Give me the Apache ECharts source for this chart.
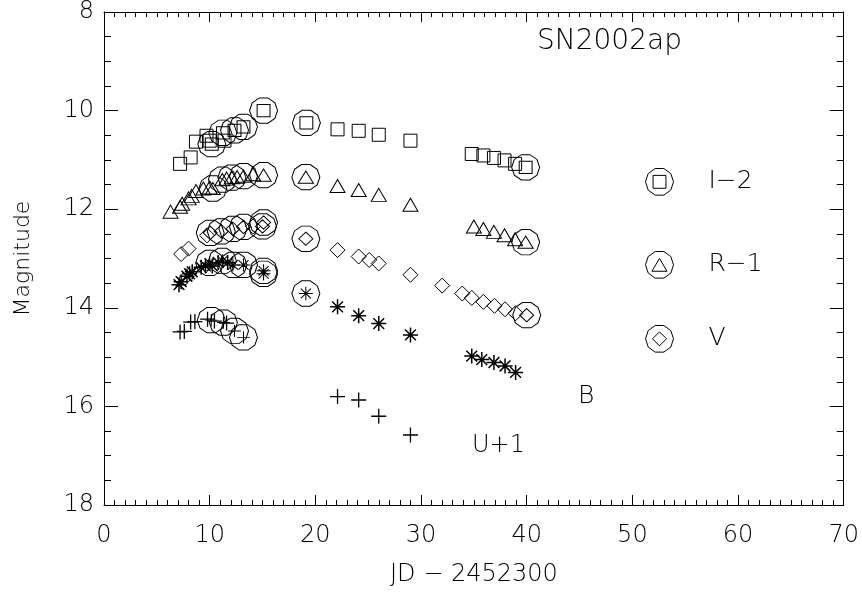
<!DOCTYPE html>
<html>
<head>
<meta charset="utf-8">
<script src="https://cdn.jsdelivr.net/npm/echarts@6/dist/echarts.min.js"></script>
<style>html,body{margin:0;padding:0;background:#fff}#c{width:862px;height:592px}</style>
</head>
<body>
<div id="c"></div>
<script>
// ---- data (JD - 2452300, magnitude) ----
const iJD  = [7.2, 8.2, 8.7, 9.7, 10.0, 11.4, 22.1, 24.1, 26.0, 29.0, 34.8, 35.9, 36.9, 37.9, 38.9];
const iMag = [11.08, 10.95, 10.63, 10.51, 10.61, 10.61, 10.38, 10.41, 10.49, 10.61, 10.88, 10.91, 10.96, 11.01, 11.08];
const iCircJD  = [10.2, 11.25, 12.35, 13.2, 15.1, 19.15, 39.9];
const iCircMag = [10.68, 10.45, 10.40, 10.33, 10.0, 10.25, 11.15];

const rJD  = [6.3, 7.2, 7.4, 8.0, 8.3, 8.7, 9.4, 10.0, 11.6, 12.6, 14.1, 22.1, 24.1, 26.0, 29.0, 35.0, 35.9, 36.9, 37.9, 38.9];
const rMag = [12.05, 11.95, 11.89, 11.78, 11.73, 11.63, 11.58, 11.56, 11.38, 11.35, 11.29, 11.53, 11.61, 11.71, 11.91, 12.35, 12.40, 12.46, 12.53, 12.61];
const rCircJD  = [10.3, 11.2, 12.1, 13.2, 15.1, 19.1, 39.9];
const rCircMag = [11.58, 11.40, 11.36, 11.33, 11.31, 11.35, 12.67];

const vJD  = [7.3, 8.0, 9.75, 14.1, 22.1, 24.1, 25.1, 26.0, 29.0, 32.0, 33.9, 34.8, 35.9, 36.95, 37.95, 38.95];
const vMag = [12.91, 12.80, 12.53, 12.35, 12.83, 12.96, 13.03, 13.10, 13.33, 13.55, 13.71, 13.80, 13.88, 13.96, 14.03, 14.11];
const vCircJD  = [10.05, 11.1, 12.2, 13.2, 15.0, 15.1, 19.1, 40.0];
const vCircMag = [12.48, 12.45, 12.40, 12.36, 12.35, 12.27, 12.60, 14.15];

const bJD  = [7.1, 7.3, 7.85, 8.1, 8.35, 9.2, 9.6, 10.25, 10.8, 11.7, 22.1, 24.1, 26.0, 29.0, 34.8, 35.75, 36.9, 37.95, 38.95];
const bMag = [13.53, 13.47, 13.36, 13.31, 13.27, 13.18, 13.15, 13.15, 13.08, 13.08, 13.98, 14.16, 14.32, 14.55, 14.98, 15.05, 15.11, 15.18, 15.31];
const bCircJD  = [10.0, 11.2, 12.2, 13.2, 15.1, 15.1, 19.1];
const bCircMag = [13.09, 13.05, 13.13, 13.13, 13.25, 13.31, 13.71];

const uJD  = [7.2, 7.6, 8.2, 8.6, 9.8, 10.45, 11.6, 22.1, 24.1, 26.0, 29.0];
const uMag = [14.49, 14.48, 14.29, 14.28, 14.23, 14.27, 14.31, 15.80, 15.87, 16.20, 16.58];
const uCircJD  = [10.15, 11.3, 12.35, 13.2];
const uCircMag = [14.25, 14.30, 14.47, 14.60];

const xTicks = [0, 10, 20, 30, 40, 50, 60, 70];
const yTicks = [8, 10, 12, 14, 16, 18];
const bandNames = ['I\u22122', 'R\u22121', 'V'];
const titleText = 'SN2002ap';
const bText = 'B';
const uText = 'U+1';
const xName = 'JD \u2212 2452300';
const yName = 'Magnitude';

// ---- symbol paths ----
function decagon() {
  let d = '';
  for (let k = 0; k < 10; k++) {
    const a = k * Math.PI / 5;
    const x = (100 * Math.cos(a)).toFixed(2), y = (-100 * Math.sin(a)).toFixed(2);
    d += (k === 0 ? 'M' : 'L') + x + ',' + y + ' ';
  }
  return d + 'Z ';
}
const inner = {
  sq: 'M-46,-46 L46,-46 L46,46 L-46,46 Z',
  tri: 'M0,-46 L54,46 L-54,46 Z',
  dia: 'M0,-50 L50,0 L0,50 L-50,0 Z',
  ast: 'M0,-50 L0,50 M-50,0 L50,0 M-36,-36 L36,36 M-36,36 L36,-36',
  plus: 'M-46,0 L46,0 M0,-46 L0,46'
};
const circ = k => 'path://' + decagon() + inner[k];
const astSym = 'path://M0,-10 L0,10 M-10,0 L10,0 M-7.2,-7.2 L7.2,7.2 M-7.2,7.2 L7.2,-7.2';
const plusSym = 'path://M-10,0 L10,0 M0,-10 L0,10';

const zip = (a, b) => a.map((v, i) => [v, b[i]]);
const FONT = 'DejaVu Sans';
const hollow = (w) => ({ color: 'rgba(0,0,0,0)', borderColor: '#000', borderWidth: w || 1, opacity: 1 });
const CSIZE = [28, 26.6];

function ser(name, data, symbol, size, bw) {
  return { type: 'scatter', name, data, symbol, symbolSize: size, itemStyle: hollow(bw), silent: true, animation: false, symbolKeepAspect: true };
}

const series = [
  ser('I', zip(iJD, iMag), 'rect', 13),
  ser(bandNames[0], zip(iCircJD, iCircMag), circ('sq'), CSIZE),
  ser('R', zip(rJD, rMag), 'triangle', [15, 13]),
  ser(bandNames[1], zip(rCircJD, rCircMag), circ('tri'), CSIZE),
  ser('Vm', zip(vJD, vMag), 'diamond', 15),
  ser(bandNames[2], zip(vCircJD, vCircMag), circ('dia'), CSIZE),
  ser('B', zip(bJD, bMag), astSym, 15, 1.5),
  ser('Bc', zip(bCircJD, bCircMag), circ('ast'), CSIZE),
  ser('U', zip(uJD, uMag), plusSym, 15, 1.3),
  ser('Uc', zip(uCircJD, uCircMag), circ('plus'), CSIZE)
];

const txt = { color: '#000', fontFamily: FONT, fontWeight: 200 };

function mkLegend(name, top, padTop) {
  return {
    data: [name], left: 640, top, orient: 'vertical', selectedMode: false,
    itemWidth: 28, itemHeight: 27,
    itemStyle: { color: 'rgba(0,0,0,0)', borderColor: '#000', borderWidth: 1 },
    textStyle: Object.assign({ fontSize: 25, padding: [padTop || 0, 0, 0, 30] }, txt)
  };
}

const axisLine = { show: true, onZero: false, lineStyle: { color: '#000', width: 1 } };

const option = {
  backgroundColor: '#fff',
  animation: false,
  grid: { left: 104, right: 15, top: 9, bottom: 83, containLabel: false },
  xAxis: [
    { type: 'value', position: 'bottom', min: xTicks[0], max: xTicks[xTicks.length - 1], interval: 10,
      axisLine, splitLine: { show: false },
      axisTick: { inside: true, length: 10, lineStyle: { color: '#000' } },
      minorTick: { show: true, splitNumber: 10, length: 5, lineStyle: { color: '#000' } },
      axisLabel: Object.assign({ fontSize: 24, margin: 19 }, txt),
      name: xName, nameLocation: 'middle', nameGap: 58,
      nameTextStyle: Object.assign({ fontSize: 24 }, txt) },
    { type: 'value', position: 'top', min: xTicks[0], max: xTicks[xTicks.length - 1], interval: 10,
      axisLine, splitLine: { show: false },
      axisTick: { inside: true, length: 10, lineStyle: { color: '#000' } },
      minorTick: { show: true, splitNumber: 10, length: 5, lineStyle: { color: '#000' } },
      axisLabel: { show: false } }
  ],
  yAxis: [
    { type: 'value', position: 'left', inverse: true, min: yTicks[0], max: yTicks[yTicks.length - 1], interval: 2,
      axisLine, splitLine: { show: false },
      axisTick: { inside: true, length: 14, lineStyle: { color: '#000' } },
      minorTick: { show: true, splitNumber: 4, length: 7, lineStyle: { color: '#000' } },
      axisLabel: Object.assign({ fontSize: 24, margin: 10 }, txt),
      name: yName, nameLocation: 'middle', nameGap: 70, nameRotate: 90,
      nameTextStyle: Object.assign({ fontSize: 22 }, txt) },
    { type: 'value', position: 'right', inverse: true, min: yTicks[0], max: yTicks[yTicks.length - 1], interval: 2,
      axisLine, splitLine: { show: false },
      axisTick: { inside: true, length: 14, lineStyle: { color: '#000' } },
      minorTick: { show: true, splitNumber: 4, length: 7, lineStyle: { color: '#000' } },
      axisLabel: { show: false } }
  ],
  legend: [
    mkLegend(bandNames[0], 163),
    mkLegend(bandNames[1], 246),
    mkLegend(bandNames[2], 320, 27)
  ],
  graphic: [
    { type: 'text', left: 537, top: 28, style: { text: titleText, fontSize: 28, fill: '#000', fontFamily: FONT, fontWeight: 200 } },
    { type: 'text', left: 578, top: 384, style: { text: bText, fontSize: 25, fill: '#000', fontFamily: FONT, fontWeight: 200 } },
    { type: 'text', left: 472, top: 434, style: { text: uText, fontSize: 24, fill: '#000', fontFamily: FONT, fontWeight: 200 } }
  ],
  series
};

const chart = echarts.init(document.getElementById('c'), null, { renderer: 'canvas' });
chart.setOption(option);
</script>
</body>
</html>
